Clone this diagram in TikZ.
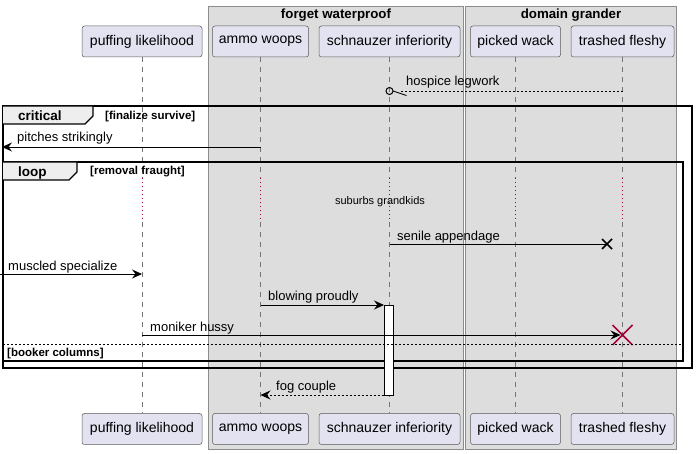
\documentclass[tikz,border=0pt]{standalone}
\usepackage{fontspec}
\setmainfont{Liberation Sans}
\usetikzlibrary{positioning, arrows.meta, calc, backgrounds}
\definecolor{partfill}{HTML}{E2E2F0}
\definecolor{partdraw}{HTML}{5A5A5A}
\definecolor{groupfill}{HTML}{DDDDDD}
\definecolor{groupdraw}{HTML}{8C8C8C}
\definecolor{delayred}{HTML}{A80036}
\definecolor{tabfill}{HTML}{EEEEEE}
\tikzset{
  participant/.style={
    draw=partdraw, fill=partfill, rounded corners=2.5pt,
    minimum height=31pt, inner sep=1pt, line width=0.5pt,
    font=\fontsize{14}{16}\selectfont
  },
  % Groups (boxes of participants)
  groupbox/.style={draw=groupdraw, fill=groupfill, line width=0.8pt},
  grouptitle/.style={font=\fontsize{13.3}{15}\selectfont\bfseries},
  % Lifelines
  lifeline/.style={draw=black!55, dash pattern=on 5pt off 5pt, line width=0.5pt},
  delayline/.style={draw=delayred, dash pattern=on 1pt off 3pt, line width=0.6pt},
  % Messages
  msg/.style={-{Stealth[length=10pt, width=9pt, inset=3.5pt]}, line width=0.8pt},
  reply/.style={msg, dash pattern=on 2pt off 2pt},
  msglabel/.style={anchor=base west, inner sep=0pt, font=\fontsize{13}{15}\selectfont},
  % Frames (critical / loop)
  framebox/.style={draw, line width=1.5pt},
  frametab/.style={draw, fill=tabfill, line width=1.2pt},
  framekind/.style={anchor=base west, inner sep=0pt, font=\fontsize{13.5}{15}\selectfont\bfseries},
  guard/.style={anchor=base west, inner sep=0pt, font=\fontsize{11.5}{13}\selectfont\bfseries},
  activation/.style={draw, fill=white, line width=0.8pt},
}

\begin{document}
\begin{tikzpicture}[x=1pt, y=-1pt, node distance=10pt]
  \useasboundingbox (0,0) rectangle (697,454);

  %% -- Groups --
  \draw[groupbox] (208,6) rectangle (463,449);
  \draw[groupbox] (465,6) rectangle (676,449);
  \node[grouptitle] (gForget) at (336,15) {forget waterproof};
  \node[grouptitle] (gDomain) at (571,15) {domain grander};

  %% -- Participants (top) --
  \node[participant, minimum width=120pt] (puffT) at (142,41.5) {puffing likelihood};
  \node[participant, minimum width=96pt, right=of puffT]   (ammoT)  {ammo woops};
  \node[participant, minimum width=141pt, right=of ammoT]  (schnT)  {schnauzer inferiority};
  \node[participant, minimum width=90pt, right=of schnT]   (pickT)  {picked wack};
  \node[participant, minimum width=103pt, right=of pickT]  (trashT) {trashed fleshy};

  %% -- Participants (bottom) --
  \node[participant, minimum width=120pt] (puffB) at (142,429) {puffing likelihood};
  \node[participant, minimum width=96pt, right=of puffB]   (ammoB)  {ammo woops};
  \node[participant, minimum width=141pt, right=of ammoB]  (schnB)  {schnauzer inferiority};
  \node[participant, minimum width=90pt, right=of schnB]   (pickB)  {picked wack};
  \node[participant, minimum width=103pt, right=of pickB]  (trashB) {trashed fleshy};

  %% -- Delay points on the lifelines --
  \coordinate (puffD1)  at (puffT |- 0,178);  \coordinate (puffD2)  at (puffT |- 0,222);
  \coordinate (ammoD1)  at (ammoT |- 0,178);  \coordinate (ammoD2)  at (ammoT |- 0,222);
  \coordinate (schnD1)  at (schnT |- 0,178);  \coordinate (schnD2)  at (schnT |- 0,222);
  \coordinate (pickD1)  at (pickT |- 0,178);  \coordinate (pickD2)  at (pickT |- 0,222);
  \coordinate (trashD1) at (trashT |- 0,178); \coordinate (trashD2) at (trashT |- 0,222);

  %% -- Lifelines --
  \draw[lifeline] (puffT) -- (puffD1);   \draw[lifeline] (puffD2) -- (puffB);
  \draw[lifeline] (ammoT) -- (ammoD1);   \draw[lifeline] (ammoD2) -- (ammoB);
  \draw[lifeline] (schnT) -- (schnD1);   \draw[lifeline] (schnD2) -- (schnB);
  \draw[lifeline] (pickT) -- (pickD1);   \draw[lifeline] (pickD2) -- (pickB);
  \draw[lifeline] (trashT) -- (trashD1); \draw[lifeline] (trashD2) -- (trashB);
  \draw[delayline] (puffD1) -- (puffD2);
  \draw[delayline] (ammoD1) -- (ammoD2);
  \draw[delayline] (schnD1) -- (schnD2);
  \draw[delayline] (pickD1) -- (pickD2);
  \draw[delayline] (trashD1) -- (trashD2);

  %% -- hospice legwork --
  \coordinate (hosFrom) at (trashT |- 0,91);
  \coordinate (hosTo)   at (schnT |- 0,91);
  \draw[dash pattern=on 2pt off 2pt, line width=0.8pt, shorten >=10pt] (hosFrom) -- (hosTo);
  \draw[line width=1pt] (hosTo) circle (3.5);
  \draw[line width=0.8pt] ($(hosTo)+(3.5,0)$) -- ($(hosTo)+(17,4.5)$);
  \node[msglabel] (lHos) at (406,86) {hospice legwork};

  %% -- Frames --
  \draw[framebox] (3,106) rectangle (692,368);
  \draw[frametab] (3,106) -- (93,106) -- (93,116) -- (85,124) -- (3,124);
  \node[framekind] (kCrit) at (18,121) {critical};
  \node[guard] (gCrit) at (105,120) {[finalize survive]};

  \draw[framebox] (3,162) rectangle (683,361);
  \draw[frametab] (3,162) -- (77,162) -- (77,172) -- (69,180) -- (3,180);
  \node[framekind] (kLoop) at (18,177) {loop};
  \node[guard] (gLoop) at (90,175) {[removal fraught]};

  %% -- pitches strikingly --
  \coordinate (pitFrom) at (ammoT |- 0,147);
  \coordinate (pitTo)   at (2,147);
  \draw[msg] (pitFrom) -- (pitTo);
  \node[msglabel] (lPit) at (17,142) {pitches strikingly};

  %% -- delay --
  \node[font=\fontsize{11}{13}\selectfont] (delay) at (380,202) {suburbs grandkids};

  %% -- senile appendage --
  \coordinate (senFrom) at (schnT |- 0,244);
  \coordinate (senTo)   at (607,244);
  \draw[line width=0.8pt] (senFrom) -- (senTo);
  \draw[line width=1.6pt] ($(senTo)+(-5,-5)$) -- ($(senTo)+(5,5)$)
                          ($(senTo)+(-5,5)$) -- ($(senTo)+(5,-5)$);
  \node[msglabel] (lSen) at (397,240.5) {senile appendage};

  %% -- muscled specialize --
  \coordinate (musFrom) at (0,274);
  \coordinate (musTo)   at (puffT |- 0,274);
  \draw[msg] (musFrom) -- (musTo);
  \node[msglabel] (lMus) at (8,270.5) {muscled specialize};

  %% -- blowing proudly / activation --
  \coordinate (bloFrom) at (ammoT |- 0,305);
  \coordinate (bloTo)   at (384,305);
  \draw[activation] (bloTo) rectangle (393,395);
  \draw[msg] (bloFrom) -- (bloTo);
  \node[msglabel] (lBlo) at (268,300.5) {blowing proudly};

  %% -- moniker hussy --
  \coordinate (monFrom) at (puffT |- 0,335);
  \coordinate (monTo)   at (trashT |- 0,335);
  \draw[msg, shorten >=2pt] (monFrom) -- (monTo);
  \draw[delayred, line width=1.6pt] ($(monTo)+(-10,-10)$) -- ($(monTo)+(10,10)$)
                                    ($(monTo)+(-10,10)$) -- ($(monTo)+(10,-10)$);
  \node[msglabel] (lMon) at (150,331.5) {moniker hussy};

  %% -- else --
  \draw[dash pattern=on 2pt off 2pt, line width=0.6pt] (3,344) -- (683,344);
  \node[guard] (gElse) at (7,357) {[booker columns]};

  %% -- fog couple --
  \coordinate (fogFrom) at (384,395);
  \coordinate (fogTo)   at (ammoT |- 0,395);
  \draw[reply] (fogFrom) -- (fogTo);
  \node[msglabel] (lFog) at (276,390.5) {fog couple};

\end{tikzpicture}
\end{document}
